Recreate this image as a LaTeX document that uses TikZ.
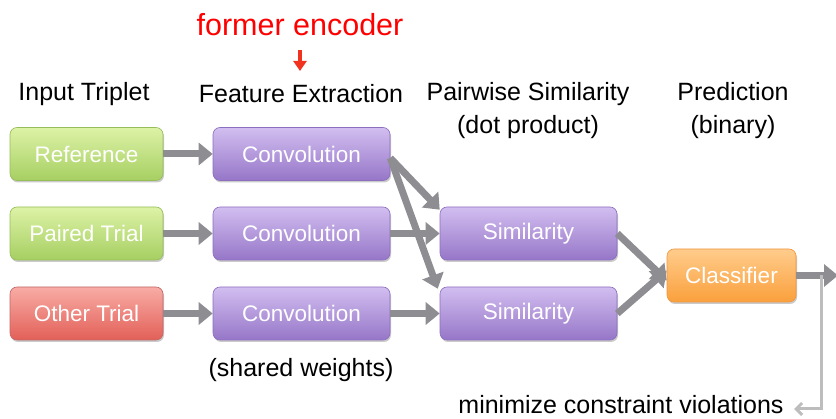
\documentclass[tikz,border=0pt]{standalone}
\usepackage{fontspec}
\setmainfont{Liberation Sans}
\usetikzlibrary{arrows.meta,shadows}
\definecolor{arrowgray}{HTML}{8E8D92}
\definecolor{lightgray2}{HTML}{BDBDBD}
\definecolor{gtop}{HTML}{DDF2A6}
\definecolor{gbot}{HTML}{A6CF62}
\definecolor{gdraw}{HTML}{96BD58}
\begin{document}
\begin{tikzpicture}[x=1pt,y=-1pt,
  box/.style={rounded corners=7pt, minimum width=#1, minimum height=53pt, inner sep=0pt,
     text=white, font=\fontsize{22.5}{26}\selectfont,
     drop shadow={shadow xshift=1pt,shadow yshift=-2pt,opacity=0.35,fill=black!60}},
  greenbox/.style={box=153pt, draw=gdraw, top color=gtop, bottom color=gbot, line width=0.6pt},
  redbox/.style={box=153pt, draw=red!60!black!60, top color={rgb,255:red,248;green,172;blue,165}, bottom color={rgb,255:red,226;green,96;blue,88}, line width=0.6pt},
  purplebox/.style={box=#1, draw={rgb,255:red,140;green,110;blue,190}, top color={rgb,255:red,210;green,190;blue,240}, bottom color={rgb,255:red,150;green,118;blue,200}, line width=0.6pt},
  orangebox/.style={box=129pt, draw={rgb,255:red,240;green,150;blue,60}, top color={rgb,255:red,255;green,204;blue,140}, bottom color={rgb,255:red,250;green,160;blue,60}, line width=0.6pt},
  head/.style={font=\fontsize{25}{30}\selectfont, text=black, align=center, inner sep=0pt},
  conn/.style={draw=arrowgray, line width=7pt, -{Triangle[length=14pt,width=22pt]}},
  fb/.style={draw=lightgray2, line width=3pt, -{Straight Barb[length=6pt,width=12pt,line width=3pt]}}
]
\useasboundingbox (0,0) rectangle (836,419);

% headers
\node[head] (h1) at (84,94) {Input Triplet};
\node[head] (h2) at (301,94) {Feature Extraction};
\node[head] (h3) at (528,111) {Pairwise Similarity\\[3pt](dot product)};
\node[head] (h4) at (733,111) {Prediction\\[3pt](binary)};
\node[head, text=red, font=\fontsize{30.5}{34}\selectfont] (fe) at (300,25) {former encoder};
\coordinate (fa1) at (300,50);
\coordinate (fa2) at (300,71);
\draw[draw={rgb,255:red,240;green,50;blue,30}, line width=3.5pt, -{Triangle[length=10pt,width=13pt]}] (fa1) -- (fa2);

% input boxes
\node[greenbox] (ref) at (86.5,154) {Reference};
\node[greenbox] (pair) at (86.5,233.5) {Paired Trial};
\node[redbox] (oth) at (86.5,313.5) {Other Trial};

% convolution boxes
\node[purplebox=177pt] (c1) at (301.5,154) {Convolution};
\node[purplebox=177pt] (c2) at (301.5,233.5) {Convolution};
\node[purplebox=177pt] (c3) at (301.5,313.5) {Convolution};

% similarity
\node[purplebox=177pt] (s1) at (528.5,233.5) {Similarity};
\node[purplebox=177pt] (s2) at (528.5,313.5) {Similarity};

% classifier
\node[orangebox] (cl) at (731.5,275.5) {Classifier};

\node[head] (sw) at (301,370) {(shared weights)};
\node[head, anchor=base] (mc) at (621,414) {minimize constraint violations};

% connectors
\draw[conn] (ref.east) -- (c1.west);
\draw[conn] (pair.east) -- (c2.west);
\draw[conn] (oth.east) -- (c3.west);

\coordinate (c1o) at ([yshift=-4pt]c1.east);
\draw[conn] (c1o) -- ([yshift=-3pt]s1.north west);
\draw[conn] (c1o) -- ([xshift=-2pt,yshift=-2pt]s2.north west);
\draw[conn] (c2.east) -- (s1.west);
\draw[conn] (c3.east) -- (s2.west);

\draw[conn] (s1.east) -- ([yshift=-5pt]cl.west);
\draw[conn] (s2.east) -- ([yshift=5pt]cl.west);

\coordinate (out) at (838,275.5);
\draw[conn] (cl.east) -- (out);
\coordinate (fb1) at (821,275.5);
\coordinate (fb2) at (821,409);
\coordinate (fb3) at (794,409);
\draw[fb] (fb1) -- (fb2) -- (fb3);
\end{tikzpicture}
\end{document}
